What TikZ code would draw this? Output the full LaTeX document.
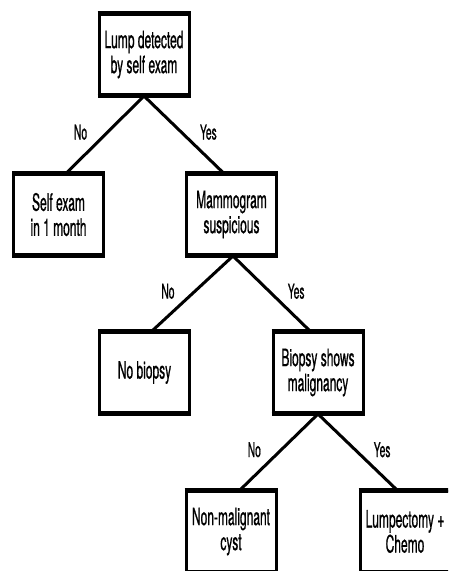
\documentclass[tikz,border=0pt]{standalone}
\usepackage{fontspec}
% narrow grotesque for all labels
\newfontfamily\condsans[FakeStretch=0.5,FakeBold=0.7]{TeX Gyre Heros}
\begin{document}
\begin{tikzpicture}[x=1pt,y=-1pt,
  decision/.style={draw, line width=3pt, minimum width=90pt, minimum height=80pt,
    inner sep=0pt, align=center, font=\condsans\fontsize{24}{25}\selectfont},
  rim/.style={line width=4.6pt},
  branch/.style={line width=3pt},
  answer/.style={font=\condsans\fontsize{20.5}{20.5}\selectfont, pos=0.47}]
\useasboundingbox (0,0) rectangle (448,571);
\clip (0,0) rectangle (448,571);

% decision boxes
\node[decision] (lump)     at (144,54.5)   {Lump detected\\by self exam};
\node[decision] (selfexam) at (58.5,214.5) {Self exam\\in 1 month};
\node[decision] (mammo)    at (231.5,214.5){Mammogram\\suspicious};
\node[decision] (nobiopsy) at (144.5,372.5){No biopsy};
\node[decision] (biopsy)   at (318,372.5)  {Biopsy shows\\malignancy};
\node[decision] (cyst)     at (231,531.5)  {Non-malignant\\cyst};
\node[decision] (lumpect)  at (405,531.5)  {Lumpectomy +\\Chemo};

% heavier top and bottom rules on every box
\foreach \n in {lump,selfexam,mammo,nobiopsy,biopsy,cyst,lumpect}{
  \draw[rim] (\n.north west) -- (\n.north east);
  \draw[rim] (\n.south west) -- (\n.south east);
}

% branches with their answers
\draw[branch] (lump.south) -- ([xshift=8pt]selfexam.north)
  node[answer, xshift=-27pt] {No};
\draw[branch] (lump.south) -- ([xshift=-8pt]mammo.north)
  node[answer, xshift=27pt] {Yes};
\draw[branch] ([xshift=1.5pt]mammo.south) -- ([xshift=7.5pt]nobiopsy.north)
  node[answer, xshift=-27pt] {No};
\draw[branch] ([xshift=1.5pt]mammo.south) -- ([xshift=-8pt]biopsy.north)
  node[answer, xshift=27pt] {Yes};
\draw[branch] (biopsy.south) -- ([xshift=9pt]cyst.north)
  node[answer, xshift=-27pt] {No};
\draw[branch] (biopsy.south) -- ([xshift=-8pt]lumpect.north)
  node[answer, xshift=27pt] {Yes};
\end{tikzpicture}
\end{document}
